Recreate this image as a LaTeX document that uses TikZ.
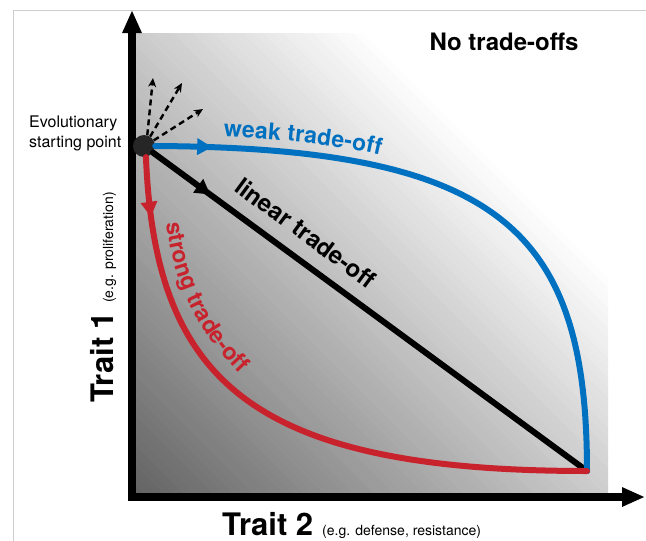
\documentclass[tikz,border=0pt]{standalone}
\usepackage{fontspec}
\setmainfont{TeX Gyre Heros}
\usetikzlibrary{arrows.meta,decorations.markings,decorations.text}
\definecolor{tored}{RGB}{200,35,45}
\definecolor{toblue}{RGB}{0,112,192}
\definecolor{gbase}{RGB}{98,98,98}
\definecolor{framegray}{RGB}{205,205,205}
\begin{document}
\begin{tikzpicture}[x=1pt,y=-1pt,
  axisline/.style={line width=7.5pt, line join=miter,
    {Triangle[length=23pt,width=18pt]}-{Triangle[length=23pt,width=18pt]}},
  curve/.style={line width=6pt, line cap=round},
  midarrow/.style={postaction={decorate}, decoration={markings,
    mark=at position #1 with {\arrow{Triangle[length=15pt,width=16pt]}}}},
  dasharrow/.style={line width=2.4pt, dash pattern=on 6pt off 4pt,
    -{Stealth[length=9pt,width=8pt]}},
  biglabel/.style={font=\fontsize{24}{24}\selectfont\bfseries, inner sep=0pt},
]
\useasboundingbox (0,0) rectangle (646,541);
% frame
\draw[framegray, line width=1.2pt] (646,10.5) -- (13.5,10.5) -- (13.5,541);
% gradient background
\begin{scope}
  \clip (132,33) rectangle (608,497);
  \fill[white] (132,33) rectangle (608,497);
  \foreach \i in {0,...,70}{
    \pgfmathsetmacro{\da}{-370+10*\i}
    \pgfmathsetmacro{\db}{\da+12}
    \pgfmathtruncatemacro{\p}{round(100*\i/70)}
    \fill[white!\p!gbase] (\da,0) -- (\db,0) -- (\db+541,541) -- (\da+541,541) -- cycle;
  }
\end{scope}
% axes
\coordinate (ytip) at (132,10);
\coordinate (origin) at (132,497);
\coordinate (xtip) at (645,497);
\draw[axisline] (ytip) -- (origin) -- (xtip);
% start point and end point
\node[circle, fill=black!85, minimum size=22pt, inner sep=0pt] (start) at (144,146) {};
\coordinate (end) at (587,471);
% curves
\draw[curve, black, midarrow=71pt] (start) -- (end);
\draw[curve, toblue, midarrow=57pt] (start.east) .. controls (500,148) and (587,230) .. (end);
\draw[curve, tored, midarrow=60pt] (start.-80) .. controls (155,380) and (250,471) .. (end);
% dashed arrows
\coordinate (d1) at (153,78);
\coordinate (d2) at (182,83);
\coordinate (d3) at (203,109);
\draw[dasharrow] (start.73) -- (d1);
\draw[dasharrow] (start.57) -- (d2);
\draw[dasharrow] (start.30) -- (d3);
% curve labels
\path[decorate, decoration={text along path,
   text={|\fontsize{23}{23}\selectfont\bfseries|weak trade-off},
   text color=toblue, raise=11pt, text align={left indent=68pt}}]
   (start.east) .. controls (500,148) and (587,230) .. (end);
\coordinate (s0) at (166,223);
\coordinate (s1) at (264,396);
\path[decorate, decoration={text along path,
   text={|\fontsize{23}{23}\selectfont\bfseries|strong trade-off},
   text color=tored}]
   (s0) .. controls (177,298) and (207,348) .. (s1);
\node[biglabel, rotate=-36.3, anchor=base west] (lin) at (233,190) {linear trade-off};
\node[biglabel, anchor=base] (none) at (504,50) {No trade-offs};
\node[align=left, anchor=west, font=\fontsize{16}{20}\selectfont, inner sep=0pt] (evo) at (29,133) {Evolutionary\\starting point};
\node[anchor=base west, inner sep=0pt] (t2) at (222,535)
  {{\fontsize{31}{31}\selectfont\bfseries Trait 2}\hspace{9pt}{\fontsize{14}{14}\selectfont (e.g. defense, resistance)}};
\node[rotate=90, anchor=base west, inner sep=0pt] (t1) at (113,403)
  {{\fontsize{31}{31}\selectfont\bfseries Trait 1}\hspace{9pt}{\fontsize{14}{14}\selectfont (e.g. proliferation)}};
\end{tikzpicture}
\end{document}
